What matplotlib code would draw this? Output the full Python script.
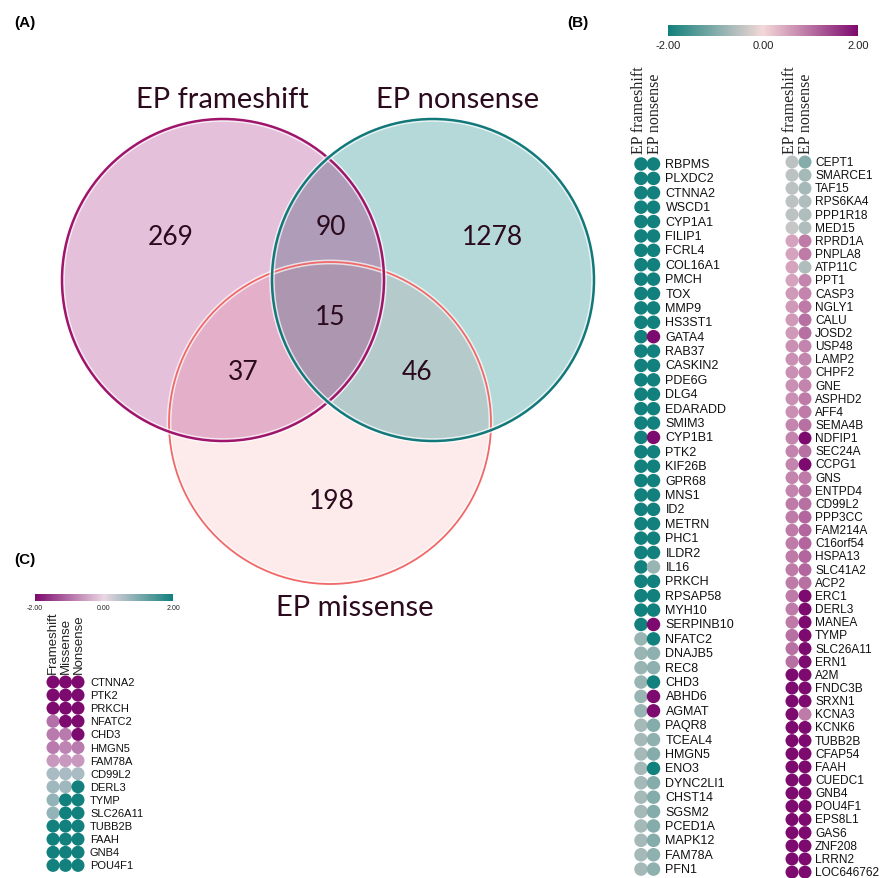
import numpy as np
import matplotlib
matplotlib.use('Agg')
import matplotlib.pyplot as plt
from matplotlib.patches import Circle, Polygon
from matplotlib.colors import LinearSegmentedColormap, Normalize
from matplotlib.cm import ScalarMappable

W, H = 881, 879

# ── Data ─────────────────────────────────────────────────────────────
venn_names = ['EP frameshift', 'EP nonsense', 'EP missense']
venn_regions = ['100', '010', '001', '110', '101', '011', '111']
venn_counts = [269, 1278, 198, 90, 37, 46, 15]

b_headers = ['EP frameshift', 'EP nonsense']
b_genes_1 = ['RBPMS', 'PLXDC2', 'CTNNA2', 'WSCD1', 'CYP1A1', 'FILIP1', 'FCRL4',
             'COL16A1', 'PMCH', 'TOX', 'MMP9', 'HS3ST1', 'GATA4', 'RAB37',
             'CASKIN2', 'PDE6G', 'DLG4', 'EDARADD', 'SMIM3', 'CYP1B1', 'PTK2',
             'KIF26B', 'GPR68', 'MNS1', 'ID2', 'METRN', 'PHC1', 'ILDR2', 'IL16',
             'PRKCH', 'RPSAP58', 'MYH10', 'SERPINB10', 'NFATC2', 'DNAJB5', 'REC8',
             'CHD3', 'ABHD6', 'AGMAT', 'PAQR8', 'TCEAL4', 'HMGN5', 'ENO3',
             'DYNC2LI1', 'CHST14', 'SGSM2', 'PCED1A', 'MAPK12', 'FAM78A', 'PFN1']
b_fs_1 = [-2, -2, -2, -2, -2, -2, -2, -2, -2, -2, -2, -2, -2, -2, -2, -2, -2,
          -2, -2, -2, -2, -2, -2, -2, -2, -2, -2, -2, -2, -2, -2, -2, -2,
          -0.8, -0.8, -0.8, -0.8, -0.8, -0.8, -0.7, -0.7, -0.7, -0.7, -0.7,
          -0.7, -0.7, -0.7, -0.7, -0.7, -0.7]
b_ns_1 = [-2, -2, -2, -2, -2, -2, -2, -2, -2, -2, -2, -2, 2, -2, -2, -2, -2,
          -2, -2, 2, -2, -2, -2, -2, -2, -2, -2, -2, -0.8, -2, -2, -2, 2,
          -2, -0.9, -0.9, -2, 2, 2, -1.0, -0.9, -1.0, -2, -1.0, -1.0, -1.0,
          -1.0, -1.0, -0.9, -0.9]

b_genes_2 = ['CEPT1', 'SMARCE1', 'TAF15', 'RPS6KA4', 'PPP1R18', 'MED15', 'RPRD1A',
             'PNPLA8', 'ATP11C', 'PPT1', 'CASP3', 'NGLY1', 'CALU', 'JOSD2', 'USP48',
             'LAMP2', 'CHPF2', 'GNE', 'ASPHD2', 'AFF4', 'SEMA4B', 'NDFIP1', 'SEC24A',
             'CCPG1', 'GNS', 'ENTPD4', 'CD99L2', 'PPP3CC', 'FAM214A', 'C16orf54',
             'HSPA13', 'SLC41A2', 'ACP2', 'ERC1', 'DERL3', 'MANEA', 'TYMP',
             'SLC26A11', 'ERN1', 'A2M', 'FNDC3B', 'SRXN1', 'KCNA3', 'KCNK6',
             'TUBB2B', 'CFAP54', 'FAAH', 'CUEDC1', 'GNB4', 'POU4F1', 'EPS8L1',
             'GAS6', 'ZNF208', 'LRRN2', 'LOC646762']
b_fs_2 = [-0.5, -0.5, -0.5, -0.5, -0.5, -0.4, 0.5, 0.5, 0.5, 0.5, 0.6, 0.6, 0.6,
          0.6, 0.7, 0.7, 0.7, 0.7, 0.7, 0.7, 0.8, 0.8, 0.8, 0.8, 0.8, 0.8, 0.9,
          0.9, 0.9, 0.9, 0.9, 0.9, 0.9, 0.9, 0.9, 0.9, 1.0, 1.0, 1.0, 2, 2, 2, 2,
          2, 2, 2, 2, 2, 2, 2, 2, 2, 2, 2, 2]
b_ns_2 = [-1.0, -0.7, -0.7, -0.6, -0.6, -0.6, 0.9, 0.9, -0.6, 0.8, 0.8, 0.9, 1.0,
          1.0, 0.8, 0.8, 0.8, 0.8, 0.9, 0.9, 1.0, 2, 1.0, 2, 0.9, 1.0, 1.0, 1.1,
          1.1, 1.1, 1.1, 1.1, 1.0, 2, 2, 2, 2, 2, 2, 2, 2, 2, 0.9, 2, 2, 2, 2, 2,
          2, 2, 2, 2, 2, 2, 2]

c_headers = ['Frameshift', 'Missense', 'Nonsense']
c_genes = ['CTNNA2', 'PTK2', 'PRKCH', 'NFATC2', 'CHD3', 'HMGN5', 'FAM78A',
           'CD99L2', 'DERL3', 'TYMP', 'SLC26A11', 'TUBB2B', 'FAAH', 'GNB4', 'POU4F1']
c_fs = [-2, -2, -2, -1.0, -0.9, -0.9, -0.6, 0.6, 0.7, 0.8, 0.8, 2, 2, 2, 2]
c_ms = [-2, -2, -2, -2, -0.9, -0.8, -0.6, 0.6, 0.7, 2, 2, 2, 2, 2, 2]
c_ns = [-2, -2, -2, -2, -2, -0.9, -0.6, 0.6, 2, 2, 2, 2, 2, 2, 2]

# ── Style ────────────────────────────────────────────────────────────
TEAL, MID, PURPLE = '#12807c', '#f3d8d8', '#7d0a6e'
cmap_b = LinearSegmentedColormap.from_list('b', [TEAL, MID, PURPLE])
cmap_c = LinearSegmentedColormap.from_list('c', [PURPLE, '#ead6e2', TEAL])
norm = Normalize(-2, 2)
TXT = '#2b0a1e'

fig = plt.figure(figsize=(W / 100, H / 100), dpi=100)


def px_axes(x0, y0, x1, y1):
    return fig.add_axes([x0 / W, 1 - y1 / H, (x1 - x0) / W, (y1 - y0) / H])


# ═══════════════ (A) Venn ═══════════════
ax = fig.add_axes([0, 0, 1, 1])
ax.set_xlim(0, W)
ax.set_ylim(H, 0)
ax.axis('off')

R = 161
centers = {'fs': (223, 281), 'ns': (433, 281), 'ms': (330, 424)}
pure = {'fs': '#e4c0da', 'ns': '#b4d9d8', 'ms': '#fdeaea'}
edge = {'fs': '#a0156c', 'ns': '#12787a', 'ms': '#f06868'}


def circ(key, **kw):
    return Circle(centers[key], R, transform=ax.transData, **kw)


for k in ['ms', 'fs', 'ns']:
    ax.add_patch(circ(k, fc=pure[k], ec='none'))

for key, clip, col in [('ms', 'fs', '#e3afc9'), ('ms', 'ns', '#b5cacb'),
                       ('ns', 'fs', '#ae9cb8')]:
    p = circ(key, fc=col, ec='none')
    ax.add_patch(p)
    p.set_clip_path(circ(clip))


def lens(c1, c2, r):
    c1, c2 = np.array(c1, float), np.array(c2, float)
    out = []
    for a, b in [(c1, c2), (c2, c1)]:
        d = np.arctan2(*(b - a)[::-1])
        t = d + np.linspace(-np.pi, np.pi, 1441)
        pts = a + r * np.column_stack([np.cos(t), np.sin(t)])
        out.append(pts[np.hypot(*(pts - b).T) < r])
    return np.vstack(out)


tri = Polygon(lens(centers['fs'], centers['ns'], R), closed=True,
              fc='#ad96b0', ec='none')
ax.add_patch(tri)
tri.set_clip_path(circ('ms'))

for k, lw in [('ms', 1.3), ('fs', 1.8), ('ns', 1.8)]:
    ax.add_patch(circ(k, fill=False, ec='white', lw=lw + 2.2, alpha=0.7))
    ax.add_patch(circ(k, fill=False, ec=edge[k], lw=lw))

name_pos = [(222, 100), (458, 100), (355, 608)]
for name, (x, y) in zip(venn_names, name_pos):
    ax.text(x, y, name, fontsize=21, family='Lato', color=TXT,
            ha='center', va='center')

count_pos = {'100': (171, 238), '010': (492, 238), '001': (332, 502),
             '110': (331, 228), '101': (243, 373), '011': (417, 373),
             '111': (330, 318)}
for reg, n in zip(venn_regions, venn_counts):
    x, y = count_pos[reg]
    ax.text(x, y, str(n), fontsize=19, family='Lato', color=TXT,
            ha='center', va='center')

for lab, (x, y) in [('(A)', (25, 23)), ('(B)', (578, 23)), ('(C)', (25, 560))]:
    ax.text(x, y, lab, fontsize=11, fontweight='bold', family='Liberation Sans',
            ha='center', va='center')


# ═══════════════ dot blocks (B, C) ═══════════════
def dot_block(xc, yc, dx, dy, genes, cols, headers, cmap, diam,
              lab_px, lab_size, hdr_px, hdr_kw):
    n, m = len(genes), len(cols)
    a = px_axes(xc - dx / 2, yc - dy / 2, xc + dx * (m - 0.5), yc + dy * (n - 0.5))
    a.set_xlim(-0.5, m - 0.5)
    a.set_ylim(n - 0.5, -0.5)
    a.axis('off')
    s = (diam * 0.72) ** 2
    for j, vals in enumerate(cols):
        a.scatter(np.full(n, j), np.arange(n), c=vals, cmap=cmap, norm=norm,
                  s=s, linewidths=0, clip_on=False)
    for i, g in enumerate(genes):
        a.annotate(g, (m - 1, i), xytext=(lab_px * 0.72, 0), textcoords='offset points',
                   va='center', ha='left', fontsize=lab_size,
                   family='Liberation Sans', color='#111111')
    # column headers: one rotated block, one line per column
    a.annotate('\n'.join(headers), ((m - 1) / 2, 0), xytext=(0, hdr_px * 0.72),
               textcoords='offset points', rotation=90, ha='center', va='bottom',
               multialignment='left', **hdr_kw)
    return a


dot_block(641, 165, 12.5, 14.39, b_genes_1, [b_fs_1, b_ns_1], b_headers, cmap_b,
          13.5, 12, 9.0, 11,
          dict(fontsize=11.5, family='Liberation Serif', color='#222222', linespacing=1.0))
dot_block(792, 163, 13, 13.15, b_genes_2, [b_fs_2, b_ns_2], b_headers, cmap_b,
          13, 10, 8.6, 9,
          dict(fontsize=11.5, family='Liberation Serif', color='#222222', linespacing=1.0))
dot_block(53, 683, 12.5, 13.1, c_genes, [c_fs, c_ms, c_ns], c_headers, cmap_c,
          13, 12, 8.0, 9,
          dict(fontsize=9.5, family='Liberation Sans', color='#222222', linespacing=1.1))


# ═══════════════ colour bars ═══════════════
def cbar(x0, y0, x1, y1, cmap, size, pad):
    cax = px_axes(x0, y0, x1, y1)
    cb = fig.colorbar(ScalarMappable(norm=norm, cmap=cmap), cax=cax,
                      orientation='horizontal', ticks=[-2, 0, 2])
    cb.outline.set_visible(False)
    cb.ax.set_xticklabels(['-2.00', '0.00', '2.00'])
    cb.ax.tick_params(length=0, labelsize=size, pad=pad)
    for t in cb.ax.get_xticklabels():
        t.set_family('Liberation Sans')
        t.set_color('#222222')


cbar(668, 26, 858, 37, cmap_b, 8, 3)
cbar(35, 595, 173, 602, cmap_c, 5, 2)

fig.savefig('out.png', dpi=100)
